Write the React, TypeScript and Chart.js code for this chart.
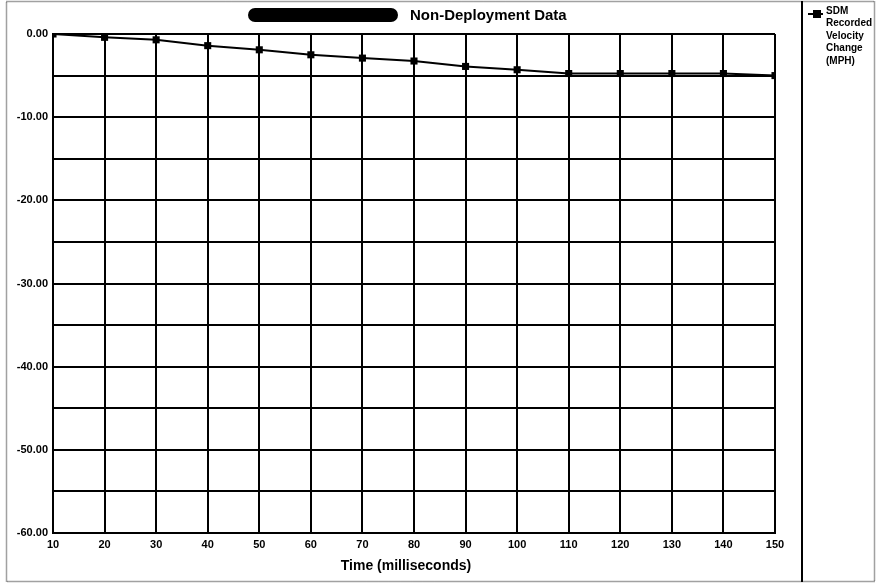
import React, { useEffect, useRef } from "react";
import { Chart, registerables } from "chart.js";

Chart.register(...registerables);

const times = [10, 20, 30, 40, 50, 60, 70, 80, 90, 100, 110, 120, 130, 140, 150];
const velocity = [0, -0.4, -0.7, -1.4, -1.9, -2.5, -2.9, -3.25, -3.9, -4.3, -4.75, -4.75, -4.75, -4.75, -5.0];
const seriesLabel = ["SDM", "Recorded", "Velocity", "Change", "(MPH)"];
const titleText = "Non-Deployment Data";
const xTitle = "Time (milliseconds)";

const FONT = "'Liberation Sans', Arial, sans-serif";

const decorPlugin = {
  id: "decor",
  beforeDraw(chart: any) {
    const ctx = chart.ctx;
    ctx.save();
    ctx.fillStyle = "#ffffff";
    ctx.fillRect(0, 0, chart.width, chart.height);
    ctx.restore();
  },
  afterDraw(chart: any) {
    const ctx = chart.ctx;
    ctx.save();
    // outer dotted frame
    ctx.strokeStyle = "#444";
    ctx.lineWidth = 1.5;
    ctx.setLineDash([1, 1]);
    ctx.strokeRect(6.5, 1.5, 868, 580);
    ctx.setLineDash([]);
    // legend separator
    ctx.strokeStyle = "#000";
    ctx.lineWidth = 2;
    ctx.beginPath();
    ctx.moveTo(802, 1);
    ctx.lineTo(802, 582);
    ctx.stroke();

    // title: redaction blob + text
    ctx.fillStyle = "#000";
    ctx.beginPath();
    (ctx as any).roundRect(248, 8, 150, 14, 7);
    ctx.fill();
    ctx.font = `bold 15px ${FONT}`;
    ctx.textBaseline = "middle";
    ctx.textAlign = "left";
    ctx.fillText(titleText, 410, 16);

    // x axis title
    ctx.font = `bold 14px ${FONT}`;
    ctx.textAlign = "center";
    ctx.fillText(xTitle, 406, 566);

    // legend
    ctx.lineWidth = 2;
    ctx.beginPath();
    ctx.moveTo(808, 14);
    ctx.lineTo(823, 14);
    ctx.stroke();
    ctx.fillRect(813, 10, 8, 8);
    ctx.font = `bold 10px ${FONT}`;
    ctx.textAlign = "left";
    seriesLabel.forEach((t, i) => {
      ctx.fillText(t, 826, 11 + i * 12.5);
    });
    ctx.restore();
  },
};

export default function App() {
  const ref = useRef<HTMLCanvasElement>(null);
  useEffect(() => {
    document.body.style.margin = "0";
    const chart = new Chart(ref.current!, {
      type: "line",
      data: {
        datasets: [
          {
            label: seriesLabel.join(" "),
            data: times.map((t, i) => ({ x: t, y: velocity[i] })),
            borderColor: "#000",
            backgroundColor: "#000",
            borderWidth: 2,
            pointStyle: "rect",
            pointRadius: 5,
            pointBorderWidth: 0,
            tension: 0,
          },
        ],
      },
      options: {
        animation: false,
        responsive: false,
        devicePixelRatio: 1,
        layout: { padding: { left: 0, top: 34, right: 101, bottom: 0 } },
        plugins: { legend: { display: false }, title: { display: false }, tooltip: { enabled: false } },
        scales: {
          x: {
            type: "linear",
            min: 10,
            max: 150,
            ticks: { stepSize: 10, color: "#000", font: { family: FONT, size: 11, weight: "bold" }, padding: 5 },
            grid: { color: "#000", lineWidth: 2, drawTicks: false },
            border: { color: "#000", width: 2 },
            afterFit: (s: any) => {
              s.height = 51;
            },
          },
          y: {
            min: -60,
            max: 0,
            ticks: {
              stepSize: 5,
              color: "#000",
              font: { family: FONT, size: 11, weight: "bold" },
              padding: 5,
              callback: (v: any) => (Number(v) % 10 === 0 ? Number(v).toFixed(2) : ""),
            },
            grid: { color: "#000", lineWidth: 2, drawTicks: false },
            border: { color: "#000", width: 2 },
            afterFit: (s: any) => {
              s.width = 53;
            },
          },
        },
      },
      plugins: [decorPlugin],
    });
    return () => chart.destroy();
  }, []);
  return (
    <div style={{ width: 876, height: 584 }}>
      <canvas ref={ref} width={876} height={584} style={{ display: "block" }} />
    </div>
  );
}
